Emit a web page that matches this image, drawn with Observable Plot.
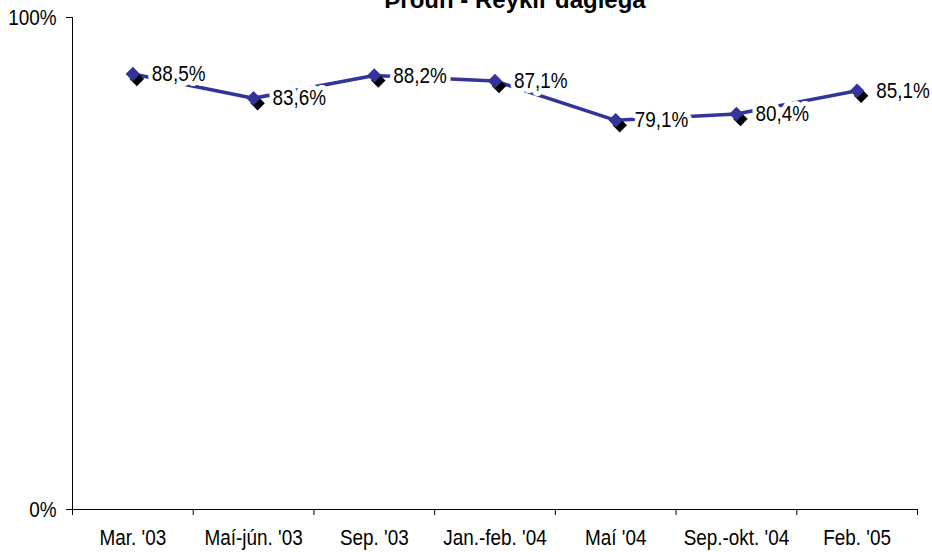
<!DOCTYPE html>
<html><head><meta charset="utf-8">
<script src="https://cdn.jsdelivr.net/npm/d3@7"></script>
<script src="https://cdn.jsdelivr.net/npm/@observablehq/plot@0.6"></script>
<style>
body{margin:0;background:#fff;}
#wrap{position:relative;width:932px;height:552px;overflow:hidden;}
#title{position:absolute;top:-12px;left:0;width:1030px;text-align:center;font:bold 24px "Liberation Sans",Arial,sans-serif;line-height:24px;color:#000;}
#chart{position:absolute;top:0;left:0;}
</style></head><body>
<div id="wrap"><div id="title">Þróun - Reykir daglega</div><div id="chart"></div></div>
<script>
const periods = ["Mar. '03","Maí-jún. '03","Sep. '03","Jan.-feb. '04","Maí '04","Sep.-okt. '04","Feb. '05"];
const values = [88.5, 83.6, 88.2, 87.1, 79.1, 80.4, 85.1];
const yTicks = [0, 100];

const data = periods.map((p, i) => ({period: p, pos: i + 0.5, value: values[i]}));
const boundaries = d3.range(periods.length + 1);
const fmt = v => v.toFixed(1).replace(".", ",") + "%";
const font = '"Liberation Sans Narrow","Arial Narrow","Liberation Sans",sans-serif';
const lineColor = "#333399";

const chart = Plot.plot({
  width: 932, height: 552,
  marginLeft: 72, marginRight: 15, marginTop: 17, marginBottom: 43,
  style: {fontFamily: font, fontSize: "22px", color: "#000", background: "transparent"},
  x: {domain: [0, periods.length], axis: null},
  y: {domain: [0, 100], axis: null},
  marks: [
    Plot.ruleY([0], {stroke: "#000", strokeWidth: 1}),
    Plot.ruleX([0], {stroke: "#000", strokeWidth: 1}),
    Plot.axisX(boundaries, {tickSize: 6, tickFormat: () => "", stroke: "#000", label: null}),
    Plot.axisX(data.map(d => d.pos), {tickSize: 0, tickPadding: 20, tickFormat: v => periods[Math.round(v - 0.5)], fontSize: 22, label: null}),
    Plot.axisY(yTicks, {tickSize: 6, tickPadding: 10, tickFormat: d => d + "%", fontSize: 22, label: null}),
    Plot.line(data, {x: "pos", y: "value", stroke: lineColor, strokeWidth: 3.5}),
    Plot.text(data, {x: "pos", y: "value", text: d => fmt(d.value), textAnchor: "start", dx: 19, dy: 0,
      fill: "#000", stroke: "white", strokeWidth: 10, paintOrder: "stroke", fontSize: 22}),
    Plot.dot(data, {x: "pos", y: "value", symbol: "diamond2", r: 6.5, fill: "#000", dx: 4, dy: 5}),
    Plot.dot(data, {x: "pos", y: "value", symbol: "diamond2", r: 6.5, fill: lineColor})
  ]
});
// emulate a narrow typeface: squeeze each text horizontally around its anchor
d3.select(chart).selectAll("text").each(function() {
  const t = this.getAttribute("transform") || "";
  this.setAttribute("transform", (t + " scale(0.86,1)").trim());
});
document.getElementById("chart").appendChild(chart);
</script>
</body></html>
